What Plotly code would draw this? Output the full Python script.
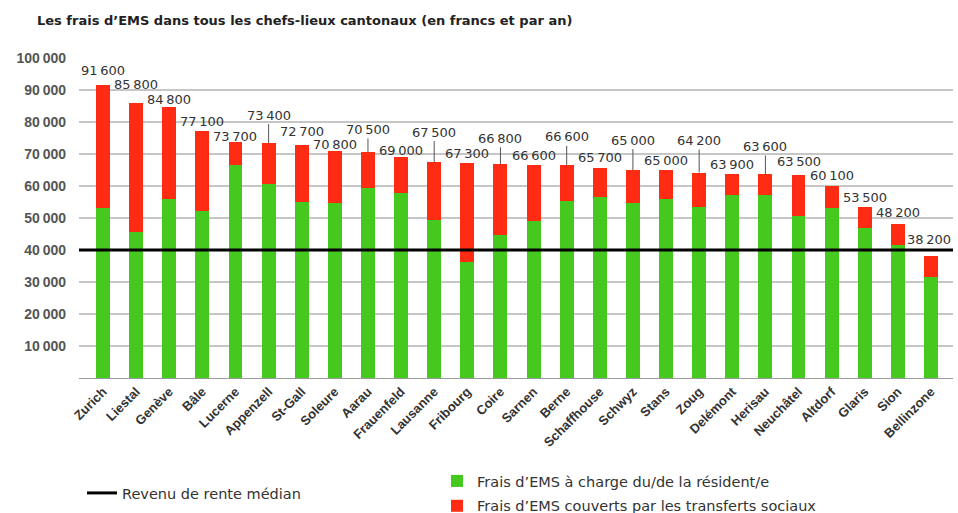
import plotly.graph_objects as go

# ---- data ----
cities = ["Zurich", "Liestal", "Genève", "Bâle", "Lucerne", "Appenzell", "St-Gall",
          "Soleure", "Aarau", "Frauenfeld", "Lausanne", "Fribourg", "Coire", "Sarnen",
          "Berne", "Schaffhouse", "Schwyz", "Stans", "Zoug", "Delémont", "Herisau",
          "Neuchâtel", "Altdorf", "Glaris", "Sion", "Bellinzone"]
totals = [91600, 85800, 84800, 77100, 73700, 73400, 72700, 70800, 70500, 69000,
          67500, 67300, 66800, 66600, 66600, 65700, 65000, 65000, 64200, 63900,
          63600, 63500, 60100, 53500, 48200, 38200]
resident_part = [53200, 45500, 55900, 52200, 66600, 60500, 54900, 54600, 59500, 57700,
                 49400, 36200, 44700, 49100, 55300, 56600, 54800, 55800, 53500, 57100,
                 57100, 50600, 53200, 47000, 41600, 31700]
social_part = [38400, 40300, 28900, 24900, 7100, 12900, 17800, 16200, 11000, 11300,
               18100, 31100, 22100, 17500, 11300, 9100, 10200, 9200, 10700, 6800,
               6500, 12900, 6900, 6500, 6600, 6500]
median_income = 40000
y_ticks = [10000, 20000, 30000, 40000, 50000, 60000, 70000, 80000, 90000, 100000]

# ---- label placement (pixels above bar top, leader line or not, x nudge) ----
label_offset = [14, 19, 7, 10, 6, 28, 14, 7, 23, 7, 30, 9, 26, 9, 28, 10, 30, 10, 32, 9,
                28, 13, 10, 9, 11, 16]
label_leader = [0, 0, 0, 0, 0, 1, 0, 0, 1, 0, 1, 0, 1, 0, 1, 0, 1, 0, 1, 0,
                1, 0, 0, 0, 0, 0]
label_xshift = [0] * 25 + [-2]

GREEN = "#45c91f"
RED = "#ff2b12"
FONT = "Liberation Sans"
WIDE = "DejaVu Sans"


def fmt(v):
    return f"{v:,}".replace(",", "\u2009")


fig = go.Figure()
fig.add_trace(go.Bar(
    x=cities, y=resident_part, name="Frais d’EMS à charge du/de la résident/e",
    marker=dict(color=GREEN, line=dict(width=0)), legendgroup="g1",
    hoverinfo="x+y"))
fig.add_trace(go.Bar(
    x=cities, y=social_part, name="Frais d’EMS couverts par les transferts sociaux",
    marker=dict(color=RED, line=dict(width=0)), legendgroup="g2",
    hoverinfo="x+y"))

W, H = 958, 513
L, R, T, B = 79, 5, 58, 135
pw, ph = W - L - R, H - T - B


def px_x(x):
    return (x - L) / pw


def px_y(y):
    return (H - B - y) / ph


label_font = dict(family=WIDE, size=13, color="#333333")
annotations = []
for c, t, off, lead, xs in zip(cities, totals, label_offset, label_leader, label_xshift):
    if lead:
        annotations.append(dict(
            x=c, y=t, xref="x", yref="y", text=fmt(t), showarrow=True,
            arrowhead=0, arrowwidth=1, arrowcolor="#555555", ax=xs, ay=-off,
            font=label_font))
    else:
        annotations.append(dict(
            x=c, y=t, xref="x", yref="y", text=fmt(t), showarrow=False,
            yshift=off, xshift=xs, font=label_font))

annotations.append(dict(
    x=px_x(35), y=px_y(21), xref="paper", yref="paper", xanchor="left", yanchor="middle",
    text="<b>Les frais d’EMS dans tous les chefs-lieux cantonaux (en francs et par an)</b>",
    showarrow=False, font=dict(family=WIDE, size=13, color="#222222")))

fig.update_layout(
    width=W, height=H,
    margin=dict(l=L, r=R, t=T, b=B, autoexpand=False),
    paper_bgcolor="white", plot_bgcolor="white",
    barmode="stack", bargap=0.58,
    font=dict(family=FONT, size=13, color="#333333"),
    annotations=annotations,
    shapes=[dict(
        type="line", xref="paper", yref="y", x0=0, x1=1,
        y0=median_income, y1=median_income,
        line=dict(color="black", width=3), layer="above",
        showlegend=True, name="Revenu de rente médian", legend="legend2")],
    legend=dict(
        x=px_x(437), y=px_y(465), xanchor="left", yanchor="top",
        traceorder="grouped", tracegroupgap=3, bgcolor="rgba(0,0,0,0)",
        font=dict(family=WIDE, size=14.5, color="#333333")),
    legend2=dict(
        x=px_x(82), y=px_y(477), xanchor="left", yanchor="top",
        bgcolor="rgba(0,0,0,0)",
        font=dict(family=WIDE, size=14.5, color="#333333")),
    xaxis=dict(
        tickangle=-45, showgrid=False, showline=True, linecolor="#9a9a9a",
        linewidth=1, ticks="", automargin=False,
        tickfont=dict(family=FONT, size=13, color="#333333", weight="bold"),
        fixedrange=True),
    yaxis=dict(
        range=[0, 100000], tickvals=y_ticks, ticktext=[fmt(v) for v in y_ticks],
        showgrid=True, gridcolor="#c6c6c6", gridwidth=1.5, zeroline=False,
        showline=False, ticks="", ticklabelstandoff=12, automargin=False,
        tickfont=dict(family=FONT, size=14, color="#555555", weight="bold"),
        fixedrange=True),
)

fig.write_html("out.html", config={"displayModeBar": False},
               post_script="document.body.style.margin='0';")
